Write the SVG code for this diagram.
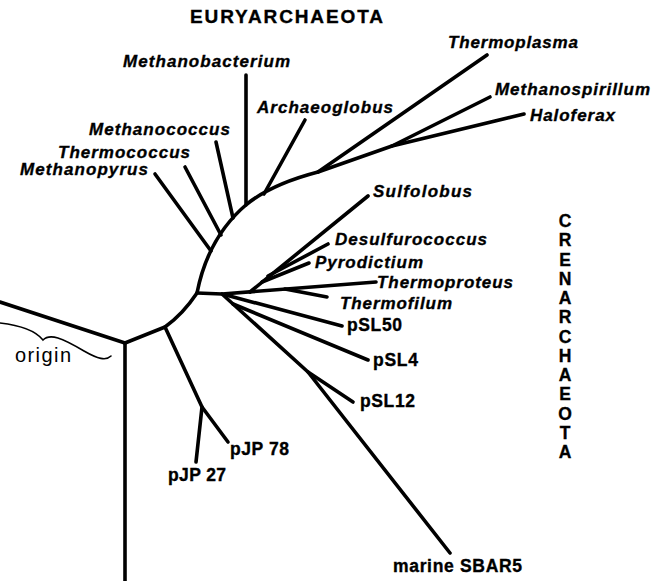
<svg xmlns="http://www.w3.org/2000/svg" width="654" height="581" viewBox="0 0 654 581">
<style>
.br{fill:none;stroke:#000;stroke-width:3.6;stroke-linecap:round;stroke-linejoin:round}
.thin{fill:none;stroke:#000;stroke-width:1.6;stroke-linecap:round}
text{font-family:"Liberation Sans",Arial,Helvetica,sans-serif;fill:#000}
.it{font-weight:bold;font-style:italic;font-size:17px;stroke:#000;stroke-width:0.35}
.bd{font-weight:bold;font-size:17.5px;stroke:#000;stroke-width:0.35}
.hd{font-weight:bold;font-size:19px;stroke:#000;stroke-width:0.35}
.rg{font-size:20px}
</style>
<rect width="654" height="581" fill="#fff"/>
<g id="connectors">
<path class="br" d="M0,302 L125,343"/>
<path class="br" d="M125,343 L125,581" stroke-width="3.2"/>
<path class="br" d="M125,343 L165,327 Q183,314 197,293"/>
<path class="br" d="M165,327 L202,407 L196,462"/>
<path class="br" d="M202,407 L228,442"/>
<path class="br" d="M197,293 Q208,237 247,204 Q272,184 318,172 L487,55"/>
<path class="br" d="M318,172 L392,146 L490,97"/>
<path class="br" d="M392,146 L524,114"/>
<path class="br" d="M264,194 L305,120"/>
<path class="br" d="M246,205 L246,75"/>
<path class="br" d="M233,218 L216,142"/>
<path class="br" d="M221,235 L185,167"/>
<path class="br" d="M211,251 L155,174"/>
<path class="br" d="M197,293 L222,294 L376,282"/>
<path class="br" d="M285,289 L327,297"/>
<path class="br" d="M250,292 L368,196"/>
<path class="br" d="M268,276 L328,244"/>
<path class="br" d="M262,282 L309,263"/>
<path class="br" d="M226,295 L342,326"/>
<path class="br" d="M233,304 L368,360"/>
<path class="br" d="M222,294 L308,372 L450,553"/>
<path class="br" d="M308,372 L353,402"/>
<path class="thin" d="M0,323 C18,325 35,330 43,340 C50,333 62,338 84,351 C98,359 106,361 111,356"/>
</g>
<g id="euryarchaeota"><text class="hd" x="190" y="23" textLength="193" lengthAdjust="spacing">EURYARCHAEOTA</text></g>
<g id="crenarchaeota"><text class="bd" text-anchor="middle" font-size="16.5"><tspan x="565" y="227">C</tspan><tspan x="565" y="246">R</tspan><tspan x="565" y="265.5">E</tspan><tspan x="565" y="285">N</tspan><tspan x="565" y="304">A</tspan><tspan x="565" y="323">R</tspan><tspan x="565" y="342.5">C</tspan><tspan x="565" y="362">H</tspan><tspan x="565" y="381">A</tspan><tspan x="565" y="400">E</tspan><tspan x="565" y="419.5">O</tspan><tspan x="565" y="438.5">T</tspan><tspan x="565" y="458">A</tspan></text></g>
<g id="methanobacterium"><text class="it" x="123" y="67" textLength="167" lengthAdjust="spacing">Methanobacterium</text></g>
<g id="archaeoglobus"><text class="it" x="257" y="113" textLength="136" lengthAdjust="spacing">Archaeoglobus</text></g>
<g id="methanococcus"><text class="it" x="89" y="135" textLength="141" lengthAdjust="spacing">Methanococcus</text></g>
<g id="thermococcus"><text class="it" x="58" y="158" textLength="132" lengthAdjust="spacing">Thermococcus</text></g>
<g id="methanopyrus"><text class="it" x="20" y="175" textLength="128" lengthAdjust="spacing">Methanopyrus</text></g>
<g id="thermoplasma"><text class="it" x="448" y="48" textLength="130" lengthAdjust="spacing">Thermoplasma</text></g>
<g id="methanospirillum"><text class="it" x="495" y="95" textLength="155" lengthAdjust="spacing">Methanospirillum</text></g>
<g id="haloferax"><text class="it" x="530" y="121" textLength="85" lengthAdjust="spacing">Haloferax</text></g>
<g id="sulfolobus"><text class="it" x="373" y="197" textLength="99" lengthAdjust="spacing">Sulfolobus</text></g>
<g id="desulfurococcus"><text class="it" x="335" y="245" textLength="152" lengthAdjust="spacing">Desulfurococcus</text></g>
<g id="pyrodictium"><text class="it" x="315" y="268" textLength="108" lengthAdjust="spacing">Pyrodictium</text></g>
<g id="thermoproteus"><text class="it" x="377" y="288" textLength="136" lengthAdjust="spacing">Thermoproteus</text></g>
<g id="thermofilum"><text class="it" x="340" y="309" textLength="112" lengthAdjust="spacing">Thermofilum</text></g>
<g id="psl50"><text class="bd" x="347" y="331" textLength="55" lengthAdjust="spacing">pSL50</text></g>
<g id="psl4"><text class="bd" x="373" y="366" textLength="45" lengthAdjust="spacing">pSL4</text></g>
<g id="psl12"><text class="bd" x="360" y="407" textLength="55" lengthAdjust="spacing">pSL12</text></g>
<g id="sbar5"><text class="bd" x="393" y="572" textLength="129" lengthAdjust="spacing">marine SBAR5</text></g>
<g id="pjp78"><text class="bd" x="230" y="455" textLength="59" lengthAdjust="spacing">pJP 78</text></g>
<g id="pjp27"><text class="bd" x="168" y="481" textLength="58" lengthAdjust="spacing">pJP 27</text></g>
<g id="origin"><text class="rg" x="15" y="362" textLength="56" lengthAdjust="spacing">origin</text></g>
</svg>
